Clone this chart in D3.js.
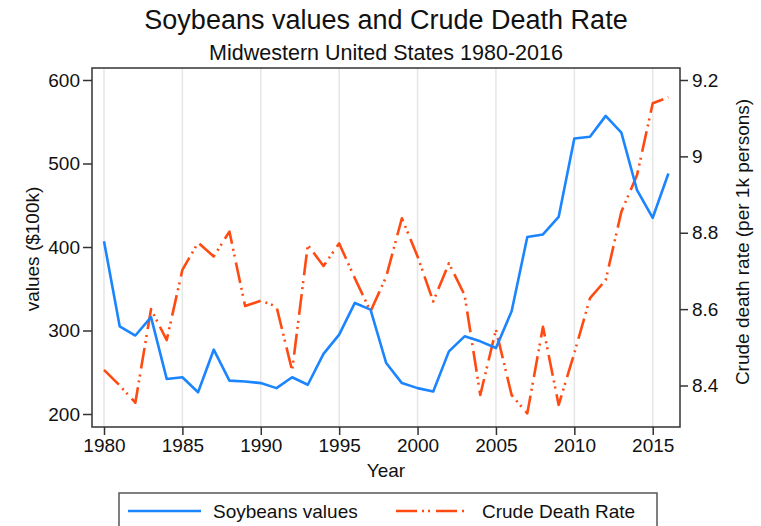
<!DOCTYPE html>
<html>
<head>
<meta charset="utf-8">
<script src="https://cdn.jsdelivr.net/npm/d3@7"></script>
<style>
  body { margin: 0; background: #fff; }
  text { font-family: "Liberation Sans", Arial, sans-serif; fill: #111; }
</style>
</head>
<body>
<script>
// values
const years = [1980, 1981, 1982, 1983, 1984, 1985, 1986, 1987, 1988, 1989,
  1990, 1991, 1992, 1993, 1994, 1995, 1996, 1997, 1998, 1999,
  2000, 2001, 2002, 2003, 2004, 2005, 2006, 2007, 2008, 2009,
  2010, 2011, 2012, 2013, 2014, 2015, 2016];

const soybeans = [407, 305, 294, 316, 242, 244, 226, 277, 240, 239,
  237, 231, 244, 235, 272, 295, 333, 325, 261, 237,
  231, 227, 275, 293, 287, 279, 323, 412, 415, 436,
  530, 532, 557, 537, 468, 435, 488];

const deathRate = [8.441, 8.4, 8.355, 8.6, 8.519, 8.703, 8.774, 8.738, 8.803, 8.608,
  8.622, 8.607, 8.439, 8.768, 8.713, 8.772, 8.681, 8.594, 8.685, 8.838,
  8.738, 8.62, 8.72, 8.637, 8.375, 8.546, 8.375, 8.327, 8.554, 8.349,
  8.485, 8.629, 8.676, 8.855, 8.951, 9.139, 9.155];

const xTicks = [1980, 1985, 1990, 1995, 2000, 2005, 2010, 2015];
const leftTicks = [200, 300, 400, 500, 600];
const rightTicks = [8.4, 8.6, 8.8, 9, 9.2];

const seriesNames = ["Soybeans values", "Crude Death Rate"];

var blue = "#1a85ff";
var red = "#ff4a12";
var dashDot = "21,5,2,4,2,6";

var svg = d3
  .select("body")
  .append("svg")
  .attr("width", 761)
  .attr("height", 526);

// plot region
var plot = { left: 92, right: 680, top: 68, bottom: 427 };

var x = d3.scaleLinear().domain([1980, 2016]).range([104, 668.4]);
var yLeft = d3.scaleLinear().domain([200, 600]).range([414, 80]);
var yRight = d3.scaleLinear().domain([8.4, 9.2]).range([385.5, 80]);

// vertical grid lines
svg
  .selectAll("grid")
  .data(xTicks)
  .enter()
  .append("line")
  .attr("x1", (d) => x(d))
  .attr("x2", (d) => x(d))
  .attr("y1", plot.top)
  .attr("y2", plot.bottom)
  .attr("stroke", "#e6e6e6")
  .attr("stroke-width", 1.5);

// frame
svg
  .append("rect")
  .attr("x", plot.left)
  .attr("y", plot.top)
  .attr("width", plot.right - plot.left)
  .attr("height", plot.bottom - plot.top)
  .attr("fill", "none")
  .attr("stroke", "#333")
  .attr("stroke-width", 1.5);

// axes
function styleAxis(g) {
  g.select(".domain").remove();
  g.selectAll(".tick line").attr("stroke", "#333").attr("stroke-width", 1.5);
  g.selectAll(".tick text")
    .style("font-size", "19px")
    .style("font-family", '"Liberation Sans", Arial, sans-serif')
    .attr("fill", "#111");
}

svg
  .append("g")
  .attr("transform", "translate(0," + plot.bottom + ")")
  .call(d3.axisBottom(x).tickValues(xTicks).tickFormat(d3.format("d")).tickSize(8).tickPadding(4))
  .call(styleAxis);

svg
  .append("g")
  .attr("transform", "translate(" + plot.left + ",0)")
  .call(d3.axisLeft(yLeft).tickValues(leftTicks).tickSize(9).tickPadding(3))
  .call(styleAxis);

svg
  .append("g")
  .attr("transform", "translate(" + plot.right + ",0)")
  .call(d3.axisRight(yRight).tickValues(rightTicks).tickFormat((d) => String(d)).tickSize(8).tickPadding(4))
  .call(styleAxis);

// lines
var soyLine = d3
  .line()
  .x((d, i) => x(years[i]))
  .y((d) => yLeft(d));

var deathLine = d3
  .line()
  .x((d, i) => x(years[i]))
  .y((d) => yRight(d));

svg
  .append("path")
  .attr("d", deathLine(deathRate))
  .attr("fill", "none")
  .attr("stroke", red)
  .attr("stroke-width", 2.6)
  .attr("stroke-dasharray", dashDot)
  .attr("stroke-linejoin", "round");

svg
  .append("path")
  .attr("d", soyLine(soybeans))
  .attr("fill", "none")
  .attr("stroke", blue)
  .attr("stroke-width", 2.6)
  .attr("stroke-linejoin", "round");

// titles
svg
  .append("text")
  .attr("x", 386)
  .attr("y", 29)
  .attr("text-anchor", "middle")
  .style("font-size", "27px")
  .text("Soybeans values and Crude Death Rate");

svg
  .append("text")
  .attr("x", 386)
  .attr("y", 60)
  .attr("text-anchor", "middle")
  .style("font-size", "21.5px")
  .text("Midwestern United States 1980-2016");

svg
  .append("text")
  .attr("x", 386)
  .attr("y", 477)
  .attr("text-anchor", "middle")
  .style("font-size", "19px")
  .text("Year");

svg
  .append("text")
  .attr("transform", "translate(39,249) rotate(-90)")
  .attr("text-anchor", "middle")
  .style("font-size", "19px")
  .text("values ($100k)");

svg
  .append("text")
  .attr("transform", "translate(749,242) rotate(-90)")
  .attr("text-anchor", "middle")
  .style("font-size", "19px")
  .text("Crude death rate (per 1k persons)");

// legend
svg
  .append("rect")
  .attr("x", 119)
  .attr("y", 493)
  .attr("width", 538)
  .attr("height", 45)
  .attr("fill", "#fff")
  .attr("stroke", "#555")
  .attr("stroke-width", 1.5);

var legendItems = [
  { name: seriesNames[0], color: blue, dash: null, x1: 128, x2: 201, tx: 213 },
  { name: seriesNames[1], color: red, dash: dashDot, x1: 396, x2: 466, tx: 482 },
];

svg
  .selectAll("legendLines")
  .data(legendItems)
  .enter()
  .append("line")
  .attr("x1", (d) => d.x1)
  .attr("x2", (d) => d.x2)
  .attr("y1", 511)
  .attr("y2", 511)
  .attr("stroke", (d) => d.color)
  .attr("stroke-width", 2.6)
  .attr("stroke-dasharray", (d) => d.dash);

svg
  .selectAll("legendText")
  .data(legendItems)
  .enter()
  .append("text")
  .attr("x", (d) => d.tx)
  .attr("y", 518)
  .style("font-size", "19px")
  .text((d) => d.name);
</script>
</body>
</html>
